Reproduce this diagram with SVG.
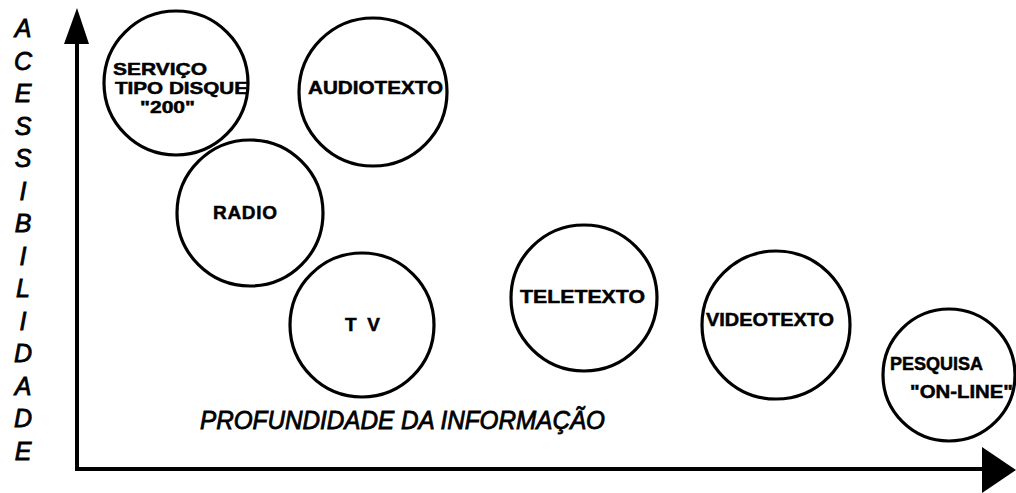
<svg xmlns="http://www.w3.org/2000/svg" width="1016" height="493" viewBox="0 0 1016 493">
<style>
.node circle{fill:none;stroke:#000;stroke-width:3.2}
.lbl{font-family:"Liberation Sans",Arial,sans-serif;font-weight:bold;font-size:19px;fill:#000;stroke:#000;stroke-width:0.5}
.sm{font-size:17px}
.hand{font-family:"Liberation Sans",Arial,sans-serif;font-style:italic;font-size:25px;fill:#000;stroke:#000;stroke-width:0.8}
.axis{stroke:#000;stroke-width:4;fill:none}
</style>
<rect width="1016" height="493" fill="#fff"/>
<g id="axes">
<line class="axis" x1="77" y1="38" x2="77" y2="470"/>
<line class="axis" x1="75" y1="469" x2="988" y2="469"/>
<polygon points="77,8 89,44 64,44" fill="#000"/>
<polygon points="1016,470 982,447 982,493" fill="#000"/>
</g>
<g id="y-label" class="hand" text-anchor="middle">
<text x="23" y="37">A</text>
<text x="23" y="70">C</text>
<text x="23" y="102">E</text>
<text x="23" y="135">S</text>
<text x="23" y="167">S</text>
<text x="23" y="200">I</text>
<text x="23" y="232">B</text>
<text x="23" y="265">I</text>
<text x="23" y="297">L</text>
<text x="23" y="330">I</text>
<text x="23" y="362">D</text>
<text x="23" y="395">A</text>
<text x="23" y="427">D</text>
<text x="23" y="460">E</text>
</g>
<g id="x-label">
<text class="hand" x="200" y="429" font-size="26" textLength="405" lengthAdjust="spacingAndGlyphs">PROFUNDIDADE DA INFORMAÇÃO</text>
</g>
<g id="servico" class="node">
<circle cx="176" cy="83" r="72"/>
<text class="lbl sm" x="113" y="75" textLength="94" lengthAdjust="spacingAndGlyphs">SERVIÇO</text>
<text class="lbl sm" x="115" y="94" textLength="133" lengthAdjust="spacingAndGlyphs">TIPO DISQUE</text>
<text class="lbl sm" x="140" y="113" textLength="55" lengthAdjust="spacingAndGlyphs">"200"</text>
</g>
<g id="audiotexto" class="node">
<circle cx="373" cy="92" r="74"/>
<text class="lbl" x="308" y="94" textLength="135" lengthAdjust="spacingAndGlyphs">AUDIOTEXTO</text>
</g>
<g id="radio" class="node">
<circle cx="250" cy="213" r="73"/>
<text class="lbl" x="213" y="219" textLength="64" lengthAdjust="spacing">RADIO</text>
</g>
<g id="tv" class="node">
<circle cx="362" cy="325" r="72"/>
<text class="lbl" x="345" y="331" textLength="35" lengthAdjust="spacing">T V</text>
</g>
<g id="teletexto" class="node">
<circle cx="584" cy="298" r="73"/>
<text class="lbl" x="520" y="303" textLength="125" lengthAdjust="spacingAndGlyphs">TELETEXTO</text>
</g>
<g id="videotexto" class="node">
<circle cx="776" cy="325" r="74"/>
<text class="lbl" x="706" y="326" textLength="128" lengthAdjust="spacingAndGlyphs">VIDEOTEXTO</text>
</g>
<g id="pesquisa" class="node">
<circle cx="949" cy="375" r="66"/>
<text class="lbl" x="890" y="370" textLength="93" lengthAdjust="spacingAndGlyphs">PESQUISA</text>
<text class="lbl" x="910" y="398" textLength="103" lengthAdjust="spacingAndGlyphs">"ON-LINE"</text>
</g>
</svg>
